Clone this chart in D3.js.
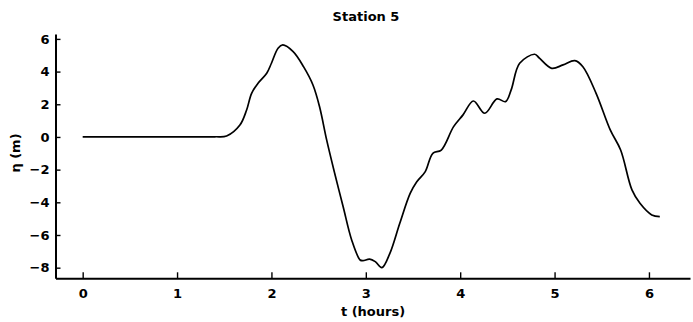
<!DOCTYPE html>
<html>
<head>
<meta charset="utf-8">
<script src="https://cdn.jsdelivr.net/npm/d3@7"></script>
<style>
  body { margin: 0; background: #fff; }
  text { font-family: "DejaVu Sans", sans-serif; fill: #000; }
</style>
</head>
<body>
<svg id="chart" width="693" height="322"></svg>
<script>
// --- Data ---
const times = [0, 0.5, 1.0, 1.4, 1.525, 1.666, 1.737, 1.79, 1.86, 1.95, 2.0, 2.07, 2.12,
  2.23, 2.34, 2.44, 2.51, 2.585, 2.67, 2.76, 2.85, 2.94, 2.97, 3.04, 3.1, 3.17, 3.255,
  3.36, 3.47, 3.54, 3.63, 3.71, 3.8, 3.93, 4.03, 4.14, 4.26, 4.39, 4.48, 4.54, 4.63,
  4.79, 4.84, 4.97, 5.09, 5.215, 5.3, 5.44, 5.59, 5.7, 5.82, 5.905, 6.03, 6.115];
const eta = [0, 0, 0, 0.01, 0.06, 0.73, 1.65, 2.67, 3.3, 3.9, 4.51, 5.43, 5.63,
  5.22, 4.3, 3.18, 1.85, -0.18, -2.22, -4.27, -6.3, -7.53, -7.57, -7.48, -7.63, -8.0, -7.12,
  -5.28, -3.45, -2.74, -2.12, -1.0, -0.8, 0.63, 1.35, 2.2, 1.45, 2.33, 2.16, 2.88, 4.51,
  5.06, 4.82, 4.2, 4.41, 4.67, 4.3, 2.67, 0.43, -0.8, -3.24, -4.06, -4.77, -4.88];
const xTicks = [0, 1, 2, 3, 4, 5, 6];
const yTicks = [-8, -6, -4, -2, 0, 2, 4, 6];

const points = times.map((t, i) => ({ t, v: eta[i] }));

// --- Layout ---
const svg = d3.select("#chart");
const plotL = 55.5, plotR = 690, plotT = 34, plotB = 278.3;

const x = d3.scaleLinear().domain([-0.288, 6.435]).range([plotL, plotR]);
const y = d3.scaleLinear().domain([-8.65, 6.3]).range([plotB, plotT]);
const fmt = d3.format("d");

// axes: ticks point inward
const xAxis = svg.append("g")
  .attr("transform", `translate(0,${plotB})`)
  .call(d3.axisBottom(x).tickValues(xTicks).tickFormat(fmt).tickSize(-6).tickSizeOuter(0));
const yAxis = svg.append("g")
  .attr("transform", `translate(${plotL},0)`)
  .call(d3.axisLeft(y).tickValues(yTicks).tickFormat((d) => (d < 0 ? "\u2212" : "") + Math.abs(d))
    .tickSize(-5).tickPadding(6).tickSizeOuter(0));

[xAxis, yAxis].forEach((a) => {
  a.select(".domain").attr("stroke", "#000").attr("stroke-width", 2);
  a.selectAll(".tick line").attr("stroke", "#000").attr("stroke-width", 1.4);
  a.selectAll(".tick text")
    .attr("font-size", 13)
    .attr("font-weight", 600)
    .attr("font-family", "DejaVu Sans, sans-serif");
});
xAxis.selectAll(".tick text").attr("dy", "0.71em").attr("y", 10);

// --- Curve ---
svg.append("path")
  .datum(points)
  .attr("fill", "none")
  .attr("stroke", "#000")
  .attr("stroke-width", 1.7)
  .attr("d", d3.line().x((d) => x(d.t)).y((d) => y(d.v)).curve(d3.curveCatmullRom));

// --- Labels ---
svg.append("text")
  .attr("x", 366).attr("y", 21)
  .attr("text-anchor", "middle")
  .attr("font-size", 13)
  .attr("font-weight", 600)
  .text("Station 5");

svg.append("text")
  .attr("x", 373).attr("y", 316)
  .attr("text-anchor", "middle")
  .attr("font-size", 13)
  .attr("font-weight", 600)
  .text("t  (hours)");

svg.append("text")
  .attr("transform", "translate(20,153) rotate(-90)")
  .attr("text-anchor", "middle")
  .attr("font-size", 13)
  .attr("font-weight", 600)
  .text("η  (m)");
</script>
</body>
</html>
